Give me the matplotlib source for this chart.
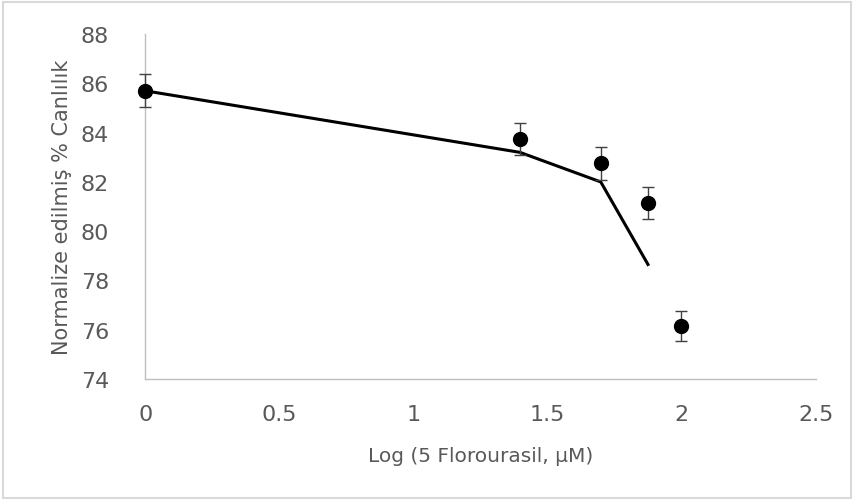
import numpy as np
import matplotlib
matplotlib.use("Agg")
import matplotlib.pyplot as plt
from matplotlib.patches import Rectangle

# measured points (log concentration vs normalized viability)
log_conc = [0.0, 1.398, 1.699, 1.875, 2.0]
viability = [85.7, 83.75, 82.75, 81.15, 76.15]
errors = [0.67, 0.64, 0.67, 0.64, 0.6]

# fitted curve
fit_x = [0.0, 1.398, 1.699, 1.875]
fit_y = [85.7, 83.2, 82.0, 78.65]

xticks = [0, 0.5, 1, 1.5, 2, 2.5]
xtick_labels = ["0", "0.5", "1", "1.5", "2", "2.5"]
yticks = [74, 76, 78, 80, 82, 84, 86, 88]

text_color = "#595959"
axis_color = "#bfbfbf"

plt.rcParams['font.family'] = ['DejaVu Sans']

fig = plt.figure(figsize=(8.54, 5.02), dpi=100)
ax = fig.add_axes([0.170, 0.243, 0.785, 0.687])

ax.plot(fit_x, fit_y, color="black", linewidth=2.2, zorder=2, clip_on=False)
markers, caps, bars = ax.errorbar(log_conc, viability, yerr=errors, fmt="o", color="black",
                                  markersize=10, ecolor="#404040", elinewidth=1, capsize=4,
                                  capthick=1, zorder=3)
markers.set_clip_on(False)
for c in caps:
    c.set_clip_on(False)
for b in bars:
    b.set_clip_on(False)

ax.set_xlim(0, 2.5)
ax.set_ylim(74, 88)
ax.set_xticks(xticks)
ax.set_xticklabels(xtick_labels)
ax.set_yticks(yticks)

for side in ["top", "right"]:
    ax.spines[side].set_visible(False)
for side in ["left", "bottom"]:
    ax.spines[side].set_color(axis_color)
    ax.spines[side].set_linewidth(1)

ax.tick_params(axis="both", length=0, labelsize=16, colors=text_color)
ax.tick_params(axis="x", pad=18)
ax.tick_params(axis="y", pad=26)
for lbl in ax.get_xticklabels() + ax.get_yticklabels():
    lbl.set_color(text_color)

ax.set_xlabel("Log (5 Florourasil, µM)", fontsize=14.5, color=text_color, labelpad=16)
ax.set_ylabel("Normalize edilmiş % Canlılık", fontsize=15, color=text_color, labelpad=6)

# light frame around the chart area
fig.patches.append(Rectangle((0.004, 0.006), 0.992, 0.988, transform=fig.transFigure,
                             fill=False, edgecolor="#d9d9d9", linewidth=1.5))

fig.savefig("out.png", dpi=100)
